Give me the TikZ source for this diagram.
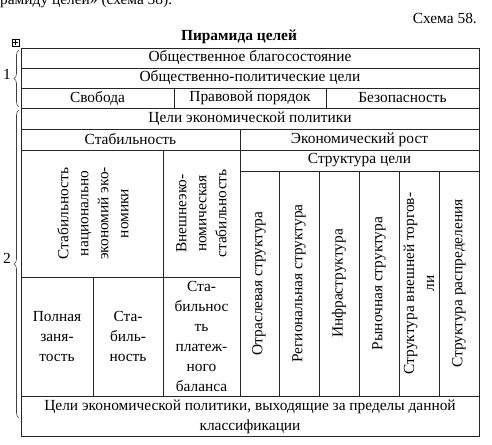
\documentclass[tikz,border=0pt]{standalone}
\usepackage{fontspec}
\setmainfont{Liberation Serif}
\usetikzlibrary{decorations.pathreplacing}
\begin{document}
\begin{tikzpicture}[x=1pt,y=-1pt,
  font=\fontsize{15.4}{20}\selectfont,
  cell/.style={inner sep=0pt, align=center},
  vcell/.style={cell, rotate=90},
  gridline/.style={line width=0.9pt, draw=black!85},
  bracestyle/.style={decorate, decoration={brace, amplitude=5pt}, line width=0.6pt, draw=black!75}]
\useasboundingbox (0,0) rectangle (492,444);
% header texts
\node[anchor=base west, inner sep=0pt] (toptext) at (0,5) {рамиду целей» (схема 58).};
\node[anchor=east, inner sep=0pt] (schema) at (477,18) {Схема 58.};
\node[cell, font=\fontsize{15.4}{20}\selectfont\bfseries] (title) at (239,37) {Пирамида целей};
% small icon
\node[draw, line width=0.5pt, minimum size=7pt, inner sep=0pt] (icon) at (15.5,42.5) {};
\draw[line width=0.5pt] (icon.center) ++(-2.2,0) -- ++(4.4,0);
\draw[line width=0.5pt] (icon.center) ++(0,-2.2) -- ++(0,4.4);
% grid
\draw[gridline] (21,48) rectangle (479,436);
\foreach \yy in {68,88,108,129,150,396}{\draw[gridline] (21,\yy) -- (479,\yy);}
\draw[gridline] (174,88) -- (174,108);
\draw[gridline] (326,88) -- (326,108);
\draw[gridline] (240,129) -- (240,396);
\draw[gridline] (163,150) -- (163,396);
\draw[gridline] (21,277) -- (240,277);
\draw[gridline] (93,277) -- (93,396);
\draw[gridline] (240,171) -- (479,171);
\foreach \xx in {279,319,359,399,439}{\draw[gridline] (\xx,171) -- (\xx,396);}
% texts
\node[cell] (obb) at (250,58) {Общественное благосостояние};
\node[cell] (opc) at (250,78) {Общественно-политические цели};
\node[cell] (svo) at (97.5,98) {Свобода};
\node[cell] (pp) at (250,98) {Правовой порядок};
\node[cell] (bez) at (402.5,98) {Безопасность};
\node[cell] (cep) at (250,118.5) {Цели экономической политики};
\node[cell] (stab) at (130.5,139.5) {Стабильность};
\node[cell] (er) at (359.5,139.5) {Экономический рост};
\node[cell] (sc) at (359.5,160.5) {Структура цели};
\node[vcell] (snek) at (93,213.5) {Стабильность\\национально\\экономий эко-\\номики};
\node[vcell] (vns) at (201.5,213.5) {Внешнеэко-\\номическая\\стабильность};
\node[cell] (pz) at (57,336.5) {Полная\\заня-\\тость};
\node[cell] (sb) at (128,336.5) {Ста-\\биль-\\ность};
\node[cell] (spb) at (201.5,336.5) {Ста-\\бильнос\\ть\\платеж-\\ного\\баланса};
\node[vcell] (os) at (259,283.5) {Отраслевая структура};
\node[vcell] (rs) at (299,283.5) {Региональная структура};
\node[vcell] (inf) at (339,283.5) {Инфраструктура};
\node[vcell] (rys) at (379,283.5) {Рыночная структура};
\node[vcell] (svt) at (419,283.5) {Структура внешней торгов-\\ли};
\node[vcell] (sr) at (459,283.5) {Структура распределения};
\node[cell] (cepv) at (250,416.5) {Цели экономической политики, выходящие за пределы данной\\классификации};
% braces
\coordinate (b1top) at (19,50);
\coordinate (b1bot) at (19,107);
\coordinate (b2top) at (19,110);
\coordinate (b2bot) at (19,418);
\draw[bracestyle] (b1bot) -- (b1top);
\draw[bracestyle] (b2bot) -- (b2top);
\node[cell] (lab1) at (7,74) {1};
\node[cell] (lab2) at (7,258) {2};
\end{tikzpicture}
\end{document}
